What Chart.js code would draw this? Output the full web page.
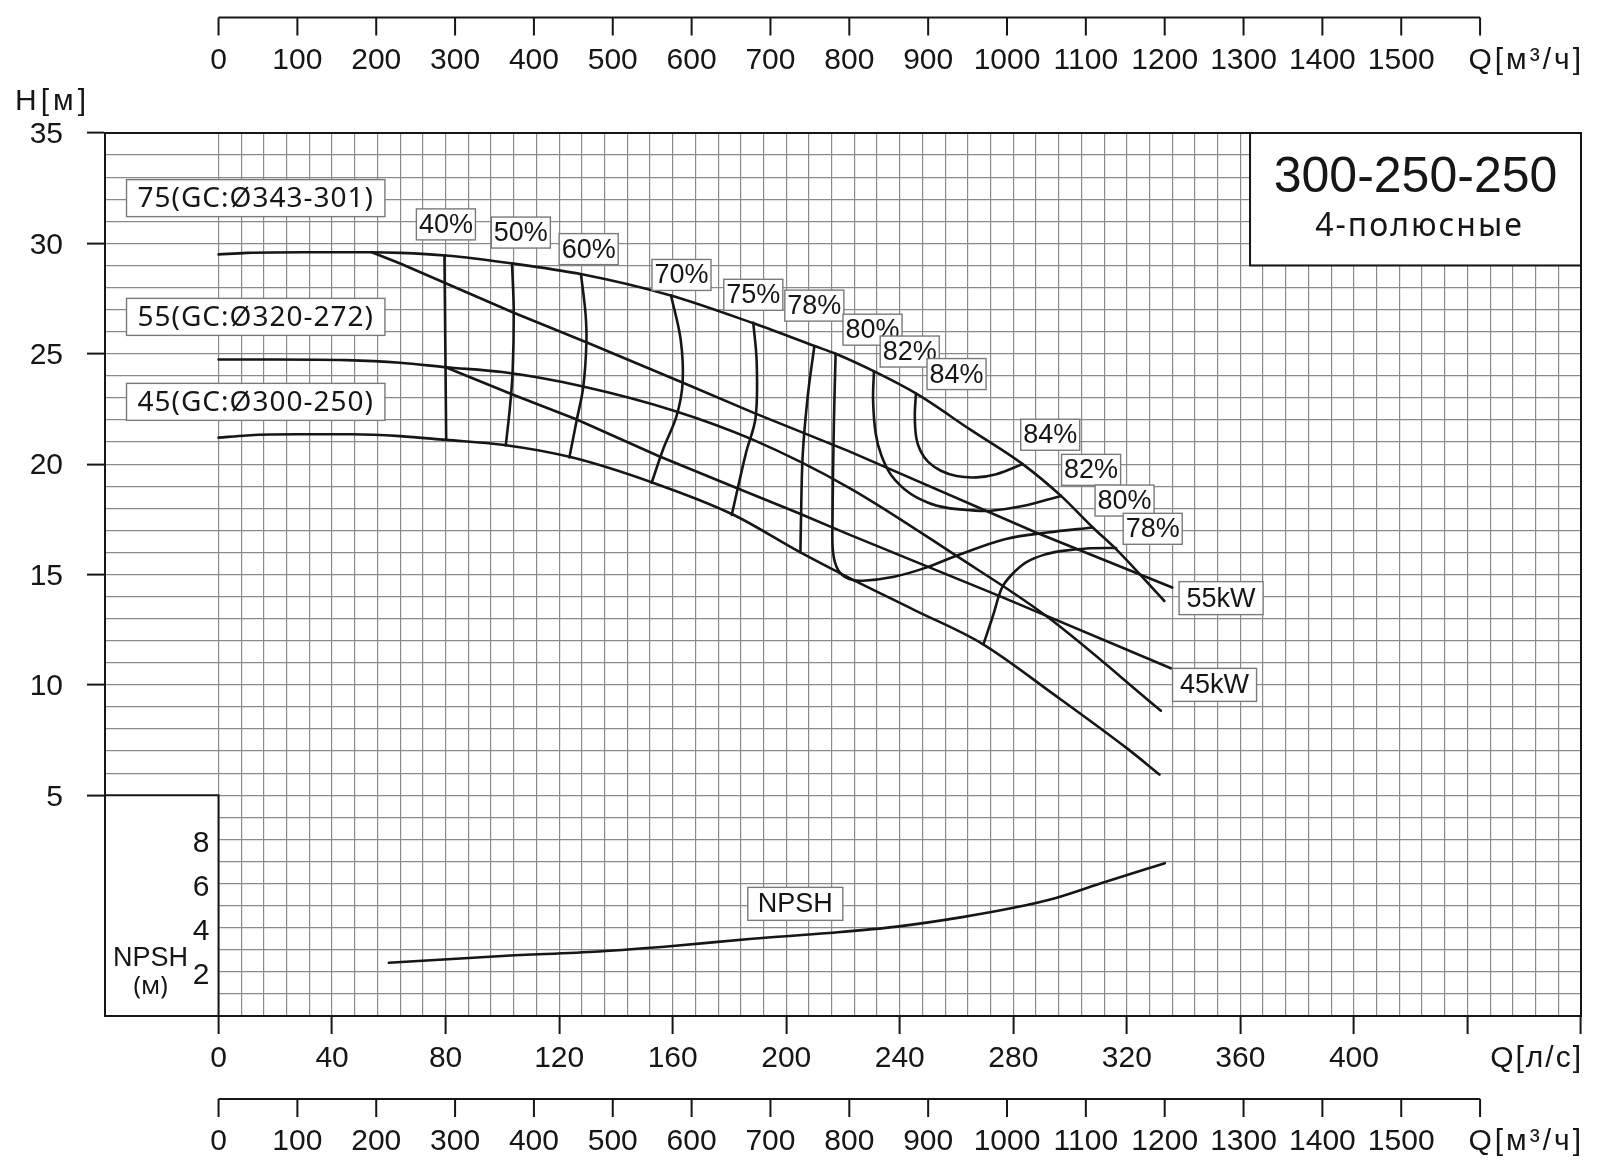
<!DOCTYPE html>
<html>
<head>
<meta charset="utf-8">
<script src="https://cdn.jsdelivr.net/npm/chart.js@4.4.1/dist/chart.umd.min.js"></script>
<style>
  html, body { margin: 0; padding: 0; background: #fff; }
</style>
</head>
<body>
<canvas id="c" width="1600" height="1173"></canvas>
<script>
// flow Q in l/s, head H in m
const q75 = [0, 10, 30, 54, 64, 80, 103, 128, 159, 188, 210, 217.4, 231, 245.7, 265, 283.3, 296.8, 308, 316.2, 333.2];
const h75 = [29.5, 29.57, 29.6, 29.6, 29.57, 29.45, 29.1, 28.6, 27.65, 26.4, 25.35, 25.0, 24.2, 23.2, 21.55, 20.0, 18.56, 17.13, 16.15, 13.8];

const q55 = [0, 20, 45, 64, 80, 100, 128, 161, 188, 222, 260, 291.5, 332];
const h55 = [24.74, 24.74, 24.71, 24.59, 24.39, 24.17, 23.53, 22.4, 21.12, 18.94, 15.84, 13.13, 8.83];

const q45 = [0, 10, 28, 47, 64, 80, 100, 124, 153, 181, 205, 222, 245, 269.2, 295, 320.3, 331.5];
const h45 = [21.2, 21.3, 21.35, 21.35, 21.27, 21.1, 20.88, 20.32, 19.16, 17.73, 16.0, 14.86, 13.4, 11.85, 9.5, 7.1, 5.94];

// motor power limit lines
const qKw55 = [54, 64, 104, 130, 163, 189, 222, 288, 336];
const hKw55 = [29.6, 29.09, 26.86, 25.5, 23.72, 22.3, 20.59, 16.9, 14.41];
const qKw45 = [80, 104, 126, 155, 181, 204, 222, 275, 335.5];
const hKw45 = [24.39, 23.13, 22.03, 20.37, 19.0, 17.8, 16.82, 14.03, 10.75];

// iso-efficiency lines
const qEff40 = [79.6, 80.2];
const hEff40 = [29.45, 21.1];
const qEff50 = [103.4, 104, 103.6, 102.6, 101.2];
const hEff50 = [29.1, 26.9, 24.15, 22.5, 20.85];
const qEff60 = [127.7, 129.3, 129.6, 128.5, 126.2, 123.6];
const hEff60 = [28.6, 26.8, 25.5, 23.5, 22.0, 20.3];
const qEff70 = [159.4, 162.8, 163.5, 161.4, 156.7, 152.6];
const hEff70 = [27.65, 25.65, 23.7, 22.2, 20.7, 19.16];
const qEff75 = [188.4, 189.6, 189.2, 185.8, 180.8];
const hEff75 = [26.4, 24.6, 22.1, 20.5, 17.7];
const qEff78 = [209.9, 207.6, 205.8, 205.2, 205];
const hEff78 = [25.34, 23.1, 20.4, 17.5, 16.0];
const qEff80 = [217.4, 216.8, 216.3, 216.5, 218.3, 222, 227, 238, 249, 260, 277, 292, 308];
const hEff80 = [25.0, 21.9, 17.5, 16.0, 15.2, 14.8, 14.72, 14.9, 15.3, 15.85, 16.6, 16.9, 17.13];
const qEff82 = [230.9, 230.6, 231.5, 233.5, 237, 243.3, 250, 256.3, 264, 271.5, 283.3, 296.8];
const hEff82 = [24.2, 22.9, 21.4, 20.4, 19.5, 18.7, 18.25, 18.03, 17.92, 17.88, 18.1, 18.56];
const qEff84 = [245.7, 245.3, 245.8, 247.3, 250, 254.5, 260, 267, 274, 283.3];
const hEff84 = [23.2, 22.2, 21.2, 20.6, 20.1, 19.7, 19.46, 19.4, 19.54, 20.0];
const qEff78b = [269.5, 271.2, 273, 276, 279.5, 284.5, 291, 297.4, 306, 316.2];
const hEff78b = [11.85, 12.5, 13.2, 14.4, 15.0, 15.55, 15.9, 16.07, 16.18, 16.2];

// NPSH in m
const qNpsh = [60, 100, 134, 160, 188, 215, 239, 262, 280, 295, 312, 333.4];
const npsh = [2.41, 2.72, 2.92, 3.17, 3.5, 3.76, 4.05, 4.48, 4.9, 5.35, 6.06, 6.92];

// labels placed at (Q, H)
const effLabels = ['40%', '50%', '60%', '70%', '75%', '78%', '80%', '82%', '84%', '84%', '82%', '80%', '78%'];
const effLabelQ = [80.1, 106.5, 130.4, 163.1, 188.4, 209.9, 230.4, 243.5, 260, 293, 307.4, 319.2, 329.1];
const effLabelH = [30.86, 30.49, 29.74, 28.57, 27.67, 27.18, 26.09, 25.1, 24.08, 21.33, 19.74, 18.35, 17.07];
const kwLabels = ['55kW', '45kW'];
const kwLabelQ = [353.2, 350.9];
const kwLabelH = [13.93, 10.0];
const curveLabels = ['75(GC:Ø343-301)', '55(GC:Ø320-272)', '45(GC:Ø300-250)'];
const curveLabelQ = [13.1, 13.1, 13.1];
const curveLabelH = [32.05, 26.67, 22.82];

// axis tick values
const m3hTicks = [0, 100, 200, 300, 400, 500, 600, 700, 800, 900, 1000, 1100, 1200, 1300, 1400, 1500, 1600];
const m3hLabels = ['0', '100', '200', '300', '400', '500', '600', '700', '800', '900', '1000', '1100', '1200', '1300', '1400', '1500', ''];
const npshTicks = [2, 4, 6, 8];

const FONT = '"Liberation Sans", Arial, sans-serif';
const ROUND_FONT = '"Noto Sans", "DejaVu Sans", sans-serif';
const INK = '#161616';
const GRID = '#8a8a8a';
const NONE = 'rgba(0,0,0,0)';

function pts(q, h) {
  return q.map((v, i) => ({ x: v, y: h[i] }));
}

const headCurves = [[q75, h75], [q55, h55], [q45, h45]];
const powerLines = [[qKw55, hKw55], [qKw45, hKw45]];
const effLines = [
  [qEff40, hEff40], [qEff50, hEff50], [qEff60, hEff60], [qEff70, hEff70], [qEff75, hEff75],
  [qEff78, hEff78], [qEff80, hEff80], [qEff82, hEff82], [qEff84, hEff84], [qEff78b, hEff78b]
];

const datasets = [];
headCurves.forEach(([q, h]) => datasets.push({ data: pts(q, h), cubicInterpolationMode: 'monotone' }));
powerLines.forEach(([q, h]) => datasets.push({ data: pts(q, h), tension: 0 }));
effLines.forEach(([q, h]) => datasets.push({ data: pts(q, h), tension: 0.35 }));
datasets.push({ data: pts(qNpsh, npsh), yAxisID: 'yN', cubicInterpolationMode: 'monotone' });

function boxLabel(ctx, text, cx, cy, padX, h, font, spacing) {
  ctx.font = font;
  ctx.letterSpacing = spacing || '0px';
  const w = ctx.measureText(text).width + padX;
  ctx.fillStyle = '#fff';
  ctx.fillRect(cx - w / 2, cy - h / 2, w, h);
  ctx.strokeStyle = '#7a7a7a';
  ctx.lineWidth = 1.4;
  ctx.strokeRect(cx - w / 2, cy - h / 2, w, h);
  ctx.fillStyle = INK;
  ctx.textAlign = 'center';
  ctx.textBaseline = 'middle';
  ctx.fillText(text, cx, cy + 1);
  ctx.letterSpacing = '0px';
}

function flowAxis(ctx, x, yLine, labelY) {
  const last = m3hTicks[m3hTicks.length - 1];
  ctx.strokeStyle = INK;
  ctx.lineWidth = 2;
  ctx.beginPath();
  ctx.moveTo(x.getPixelForValue(0), yLine);
  ctx.lineTo(x.getPixelForValue(last / 3.6), yLine);
  m3hTicks.forEach(v => {
    const p = x.getPixelForValue(v / 3.6);
    ctx.moveTo(p, yLine);
    ctx.lineTo(p, yLine + 18);
  });
  ctx.stroke();
  ctx.font = '30px ' + FONT;
  ctx.fillStyle = INK;
  ctx.textAlign = 'center';
  ctx.textBaseline = 'middle';
  m3hLabels.forEach((t, i) => ctx.fillText(t, x.getPixelForValue(m3hTicks[i] / 3.6), labelY));
  ctx.textAlign = 'right';
  ctx.letterSpacing = '3px';
  ctx.fillText('Q[м³/ч]', x.right + 3, labelY);
  ctx.letterSpacing = '0px';
}

const decor = {
  id: 'decor',
  beforeDatasetsDraw(chart) {
    const { ctx, chartArea: a, scales: { x, y, yN } } = chart;
    ctx.save();
    ctx.strokeStyle = INK;
    ctx.lineWidth = 2;

    // NPSH scale box
    const bx1 = x.getPixelForValue(0), by0 = y.getPixelForValue(5);
    ctx.fillStyle = '#fff';
    ctx.fillRect(a.left, by0, bx1 - a.left, a.bottom - by0);
    ctx.strokeRect(a.left, by0, bx1 - a.left, a.bottom - by0);
    ctx.fillStyle = INK;
    ctx.font = '30px ' + FONT;
    ctx.textAlign = 'right';
    ctx.textBaseline = 'middle';
    npshTicks.forEach(v => ctx.fillText(String(v), bx1 - 9, yN.getPixelForValue(v) + 4));
    ctx.textAlign = 'center';
    ctx.font = '27px ' + FONT;
    ctx.fillText('NPSH', bx1 - 68, yN.getPixelForValue(2.62));
    ctx.font = '25px ' + ROUND_FONT;
    ctx.fillText('(м)', bx1 - 68, yN.getPixelForValue(1.3));

    // title box
    const tx0 = x.getPixelForValue(363.4), ty1 = y.getPixelForValue(29);
    ctx.fillStyle = '#fff';
    ctx.fillRect(tx0, a.top, a.right - tx0, ty1 - a.top);
    ctx.strokeRect(tx0, a.top, a.right - tx0, ty1 - a.top);
    ctx.fillStyle = INK;
    ctx.font = '50px ' + FONT;
    ctx.fillText('300-250-250', (tx0 + a.right) / 2, a.top + 45);
    ctx.font = '32px ' + ROUND_FONT;
    ctx.letterSpacing = '2px';
    ctx.fillText('4-полюсные', (tx0 + a.right) / 2 + 4, a.top + 94);
    ctx.letterSpacing = '0px';

    // frame
    ctx.strokeStyle = INK;
    ctx.lineWidth = 2;
    ctx.strokeRect(a.left, a.top, a.right - a.left, a.bottom - a.top);
    ctx.restore();
  },
  afterDatasetsDraw(chart) {
    const { ctx, scales: { x, y, yN } } = chart;
    ctx.save();
    effLabels.forEach((t, i) =>
      boxLabel(ctx, t, x.getPixelForValue(effLabelQ[i]), y.getPixelForValue(effLabelH[i]), 5, 31, '27px ' + FONT));
    kwLabels.forEach((t, i) =>
      boxLabel(ctx, t, x.getPixelForValue(kwLabelQ[i]), y.getPixelForValue(kwLabelH[i]), 15, 33, '27px ' + FONT));
    curveLabels.forEach((t, i) =>
      boxLabel(ctx, t, x.getPixelForValue(curveLabelQ[i]), y.getPixelForValue(curveLabelH[i]), 22, 37, '28px ' + ROUND_FONT, '1px'));
    boxLabel(ctx, 'NPSH', x.getPixelForValue(203.2), yN.getPixelForValue(5.08), 20, 33, '27px ' + FONT);
    ctx.restore();
  },
  afterDraw(chart) {
    const { ctx, scales: { x } } = chart;
    ctx.save();
    flowAxis(ctx, x, 17.5, 60.5);
    flowAxis(ctx, x, 1099, 1142);
    ctx.fillStyle = INK;
    ctx.font = '30px ' + FONT;
    ctx.textBaseline = 'middle';
    ctx.textAlign = 'right';
    ctx.letterSpacing = '2px';
    ctx.fillText('Q[л/с]', x.right + 2, 1059);
    ctx.textAlign = 'left';
    ctx.letterSpacing = '4px';
    ctx.fillText('H[м]', 15, 102);
    ctx.restore();
  }
};

new Chart(document.getElementById('c'), {
  type: 'line',
  data: { datasets },
  options: {
    responsive: false,
    animation: false,
    devicePixelRatio: 1,
    layout: { padding: { top: 133, right: 19, left: 0, bottom: 0 } },
    plugins: { legend: { display: false }, tooltip: { enabled: false } },
    elements: {
      point: { radius: 0 },
      line: { borderColor: INK, borderWidth: 2.6, fill: false, borderCapStyle: 'round' }
    },
    scales: {
      x: {
        type: 'linear',
        min: -40,
        max: 480,
        afterFit: s => { s.height = 157; },
        border: { color: INK, width: 2 },
        grid: {
          color: c => (c.tick && c.tick.value < 0) ? NONE : GRID,
          lineWidth: 1.2,
          tickLength: 18,
          tickWidth: 2,
          tickColor: c => (c.tick && c.tick.value >= 0 && Math.abs(c.tick.value % 40) < 1e-6) ? INK : NONE
        },
        ticks: {
          stepSize: 8,
          autoSkip: false,
          maxRotation: 0,
          minRotation: 0,
          padding: 7,
          color: INK,
          font: { family: FONT, size: 30 },
          callback: v => (v >= 0 && v <= 400 && Math.abs(v % 40) < 1e-6) ? String(v) : ''
        }
      },
      y: {
        type: 'linear',
        min: -5,
        max: 35,
        afterFit: s => { s.width = 105; },
        border: { color: INK, width: 2 },
        grid: {
          color: GRID,
          lineWidth: 1.2,
          tickLength: 18,
          tickWidth: 2,
          tickColor: c => (c.tick && c.tick.value >= 5 && Math.abs(c.tick.value % 5) < 1e-6) ? INK : NONE
        },
        ticks: {
          stepSize: 1,
          autoSkip: false,
          padding: 24,
          labelOffset: 2,
          color: INK,
          font: { family: FONT, size: 30 },
          callback: v => (v >= 5 && Math.abs(v % 5) < 1e-6) ? String(v) : ''
        }
      },
      yN: { type: 'linear', display: false, min: 0, max: 40 }
    }
  },
  plugins: [decor]
});
</script>
</body>
</html>
